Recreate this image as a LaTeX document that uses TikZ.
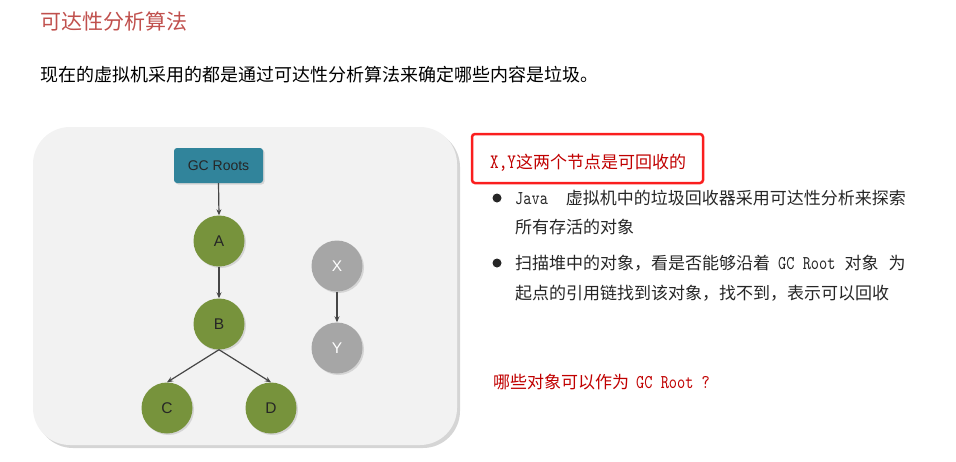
\documentclass[tikz,border=0pt]{standalone}
\usepackage{fontspec}
\newfontfamily\cjk{Noto Sans CJK SC}
\newfontfamily\arialf{Liberation Sans}
\newfontfamily\mono{lmmono10-regular}[Extension=.otf, FakeStretch=0.8]
\usetikzlibrary{arrows.meta,shadows}
\definecolor{titlered}{RGB}{192,80,77}
\definecolor{darkred}{RGB}{192,0,0}
\definecolor{boxred}{RGB}{250,30,30}
\definecolor{panelgray}{RGB}{242,242,242}
\definecolor{teal}{RGB}{49,132,155}
\definecolor{olive}{RGB}{119,147,60}
\definecolor{nodegray}{RGB}{166,166,166}
\definecolor{bodytext}{RGB}{38,38,38}
\definecolor{arrowgray}{RGB}{70,70,70}
\newcommand\fsz[1]{\fontsize{#1pt}{#1pt}\selectfont}
\tikzset{
  txt/.style={anchor=west, inner sep=0pt, text=bodytext},
  panel/.style={rectangle, rounded corners=37pt, fill=panelgray, draw=none,
    drop shadow={shadow xshift=3pt, shadow yshift=-3pt, opacity=0.3, fill=black!55}},
  rootbox/.style={rectangle, rounded corners=3pt, fill=teal, text=black!85,
    minimum width=89pt, minimum height=35pt, inner sep=0pt, font=\arialf\fsz{14},
    drop shadow={shadow xshift=1.5pt, shadow yshift=-1.5pt, opacity=0.25}},
  obj/.style={circle, minimum size=51pt, inner sep=0pt, font=\arialf\fsz{15.5},
    drop shadow={shadow xshift=1.5pt, shadow yshift=-1.5pt, opacity=0.25}},
  live/.style={obj, fill=olive, text=black!85},
  dead/.style={obj, fill=nodegray, text=white},
  ref/.style={draw=arrowgray, line width=1.2pt, -{Stealth[length=6pt,width=5pt]}},
  bulletdot/.style={circle, fill=bodytext, minimum size=9pt, inner sep=0pt},
}
\begin{document}
\begin{tikzpicture}[x=1pt,y=-1pt]
\useasboundingbox (0,0) rectangle (956,461);
% headings
\node[txt, text=titlered, font=\cjk\fsz{21}] (title) at (40,21) {可达性分析算法};
\node[txt, text=black, font=\cjk\fsz{18}] (intro) at (40,75) {现在的虚拟机采用的都是通过可达性分析算法来确定哪些内容是垃圾。};
% panel
\node[panel, minimum width=424pt, minimum height=318pt] (panel) at (245,286) {};
\node[rootbox] (gc) at (218.5,165.5) {GC Roots};
\node[live] (A) at (219,241) {A};
\node[live] (B) at (219,324) {B};
\node[live] (C) at (167,408) {C};
\node[live] (D) at (271,408) {D};
\node[dead] (X) at (337,266) {X};
\node[dead] (Y) at (337,348) {Y};
\draw[ref] (gc.south) -- (A.north);
\draw[ref] (A.south) -- (B.north);
\draw[ref] (B.south) -- (C.north);
\draw[ref] (B.south) -- (D.north);
\draw[ref] (X.south) -- (Y.north);
% red note
\node[draw=boxred, line width=2.5pt, rounded corners=3pt, minimum width=231pt, minimum height=49pt, inner sep=0pt] (note) at (587.5,158.5) {};
\node[txt, text=darkred] (notetext) at (490,163) {{\mono\fsz{20.5}X,Y}{\cjk\fsz{17}这两个节点是可回收的}};
% bullets
\node[bulletdot] (b1) at (497,198) {};
\node[txt] (l1a) at (515,198) {{\mono\fsz{19.5}Java}\hspace{18pt}{\cjk\fsz{17}虚拟机中的垃圾回收器采用可达性分析来探索}};
\node[txt] (l1b) at (515,227) {\cjk\fsz{17}所有存活的对象};
\node[bulletdot] (b2) at (497,263) {};
\node[txt] (l2a) at (515,263) {{\cjk\fsz{17}扫描堆中的对象，看是否能够沿着}\hspace{8pt}{\mono\fsz{19.5}GC Root}\hspace{9pt}{\cjk\fsz{17}对象}\hspace{10pt}{\cjk\fsz{17}为}};
\node[txt] (l2b) at (515,293) {\cjk\fsz{17}起点的引用链找到该对象，找不到，表示可以回收};
% question
\node[txt, text=darkred] (q) at (493,382) {{\cjk\fsz{17}哪些对象可以作为}\hspace{7pt}{\mono\fsz{19.5}GC Root ?}};
\end{tikzpicture}
\end{document}
